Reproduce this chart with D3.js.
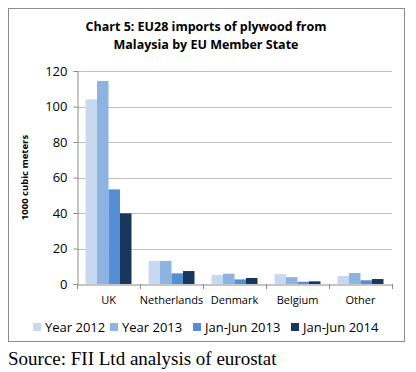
<!DOCTYPE html>
<html><head><meta charset="utf-8">
<script src="https://cdn.jsdelivr.net/npm/d3@7"></script>
<style>html,body{margin:0;padding:0;background:#fff;}svg{display:block;}</style>
</head><body>
<script>
const categories = ["UK", "Netherlands", "Denmark", "Belgium", "Other"];
const seriesNames = ["Year 2012", "Year 2013", "Jan-Jun 2013", "Jan-Jun 2014"];
const year2012 = [104, 13, 5.1, 5.6, 4.5];
const year2013 = [114.4, 13, 5.8, 3.9, 6.2];
const janJun2013 = [53.3, 6.0, 2.6, 1.3, 2.1];
const janJun2014 = [39.8, 7.3, 3.4, 1.5, 2.8];
const yTicks = [0, 20, 40, 60, 80, 100, 120];
const colors = ["#c6d9f1", "#8db3e2", "#558ed5", "#17375e"];
const seriesValues = [year2012, year2013, janJun2013, janJun2014];

const W = 416, H = 372;
const svg = d3.select("body").append("svg").attr("width", W).attr("height", H);
const sans = "'Open Sans', 'Liberation Sans', sans-serif";

svg.append("rect").attr("x", 8.5).attr("y", 8.5).attr("width", 396).attr("height", 333)
  .attr("fill", "#fff").attr("stroke", "#8c8c8c").attr("stroke-width", 1);

svg.append("text").attr("x", 206).attr("y", 31).attr("text-anchor", "middle")
  .attr("font-family", sans).attr("font-weight", "bold").attr("font-size", 12.5).attr("fill", "#000")
  .text("Chart 5: EU28 imports of plywood from");
svg.append("text").attr("x", 206).attr("y", 49).attr("text-anchor", "middle")
  .attr("font-family", sans).attr("font-weight", "bold").attr("font-size", 12.5).attr("fill", "#000")
  .text("Malaysia by EU Member State");

const pLeft = 77, pRight = 392, pTop = 71, pBottom = 284;
const x0 = d3.scaleBand().domain(categories).range([pLeft, pRight]).paddingInner(0.27).paddingOuter(0.135);
const x1 = d3.scaleBand().domain(seriesNames).range([0, x0.bandwidth()]);
const y = d3.scaleLinear().domain([0, 120]).range([pBottom, pTop]);

// gridlines
svg.append("g").selectAll("line").data(yTicks.filter(t => t > 0)).join("line")
  .attr("x1", pLeft).attr("x2", pRight)
  .attr("y1", d => Math.round(y(d)) + 0.5).attr("y2", d => Math.round(y(d)) + 0.5)
  .attr("stroke", "#bfbfbf").attr("stroke-width", 1);

// y axis
const yAxis = d3.axisLeft(y).tickValues(yTicks).tickSize(4).tickPadding(6);
const gy = svg.append("g").attr("transform", `translate(${pLeft + 0.5},0)`).call(yAxis);
gy.select(".domain").attr("stroke", "#8c8c8c");
gy.selectAll(".tick line").attr("stroke", "#8c8c8c");
gy.selectAll(".tick text").attr("font-family", sans).attr("font-size", 13).attr("fill", "#000");

// bars
const groups = svg.append("g").selectAll("g").data(categories).join("g")
  .attr("transform", d => `translate(${x0(d)},0)`);
groups.selectAll("rect").data((c, i) => seriesNames.map((s, j) => ({s, v: seriesValues[j][i], j})))
  .join("rect")
  .attr("x", d => x1(d.s)).attr("width", x1.bandwidth())
  .attr("y", d => y(d.v)).attr("height", d => y(0) - y(d.v))
  .attr("fill", d => colors[d.j]);

// x axis
const xAxis = d3.axisBottom(x0).tickSize(0).tickPadding(12);
const gx = svg.append("g").attr("transform", `translate(0,${pBottom + 0.5})`).call(xAxis);
gx.select(".domain").attr("stroke", "#8c8c8c");
gx.selectAll(".tick text").attr("font-family", sans).attr("font-size", 11).attr("fill", "#000");
// boundary tick marks
const bounds = d3.range(categories.length + 1).map(i => pLeft + i * (pRight - pLeft) / categories.length);
svg.append("g").selectAll("line").data(bounds).join("line")
  .attr("x1", d => Math.round(d) + 0.5).attr("x2", d => Math.round(d) + 0.5)
  .attr("y1", pBottom).attr("y2", pBottom + 5).attr("stroke", "#8c8c8c");

// y label
svg.append("text").attr("transform", `translate(28,${(pTop + pBottom) / 2}) rotate(-90)`)
  .attr("text-anchor", "middle").attr("font-family", sans).attr("font-weight", "bold")
  .attr("font-size", 9.5).attr("fill", "#000").text("1000 cubic meters");

// legend
const legendX = [33, 110, 193, 291];
const lg = svg.append("g").selectAll("g").data(seriesNames).join("g")
  .attr("transform", (d, i) => `translate(${legendX[i]},327)`);
lg.append("rect").attr("x", 0).attr("y", -4).attr("width", 8).attr("height", 8).attr("fill", (d, i) => colors[i]);
lg.append("text").attr("x", 12).attr("y", 5).attr("font-family", sans).attr("font-size", 13)
  .attr("fill", "#000").text(d => d);

svg.append("text").attr("x", 8).attr("y", 365).attr("font-family", "'Liberation Serif', 'Times New Roman', serif")
  .attr("font-size", 19).attr("fill", "#000").text("Source: FII Ltd analysis of eurostat");
</script>
</body></html>
